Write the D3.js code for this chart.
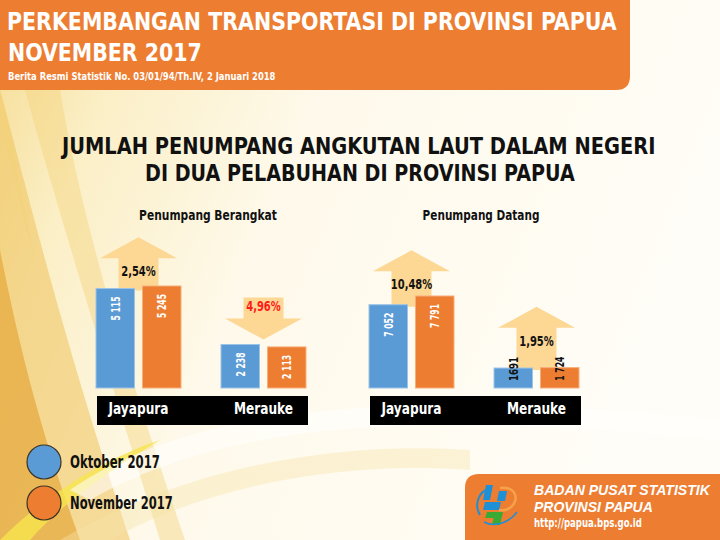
<!DOCTYPE html>
<html><head><meta charset="utf-8">
<script src="https://cdn.jsdelivr.net/npm/d3@7/dist/d3.min.js"></script>
<style>body{margin:0;background:#fff}svg{display:block}</style>
</head><body>
<svg id="c" width="720" height="540"></svg>
<script>
// ---------- DATA ----------
const ports = ["Jayapura", "Merauke"];
const periods = ["Oktober 2017", "November 2017"];
const berangkatOkt = [5115, 2238];
const berangkatNov = [5245, 2113];
const berangkatOktLabels = ["5 115", "2 238"];
const berangkatNovLabels = ["5 245", "2 113"];
const berangkatChange = ["2,54%", "4,96%"];
const datangOkt = [7052, 1691];
const datangNov = [7791, 1724];
const datangOktLabels = ["7 052", "1691"];
const datangNovLabels = ["7 791", "1 724"];
const datangChange = ["10,48%", "1,95%"];

// ---------- STYLE ----------
const COND = "'Liberation Sans Narrow','DejaVu Sans Condensed','Arial Narrow',sans-serif";
const ORANGE = "#ED7D31", BLUE = "#5B9BD5", ARROW = "#FDD794";
const colors = [BLUE, ORANGE];
const strokes = ["#9CC3E8", "#F6AE7A"];

const svg = d3.select("#c");
const defs = svg.append("defs");

// text helper: draws text and squeezes it horizontally to a target width
function fitText(parent, { x, y, w, anchor = "start", size, family = COND, weight = "bold", style = "normal", fill = "#111", text }) {
  const t = parent.append("text").attr("x", 0).attr("y", y).attr("text-anchor", anchor)
    .attr("font-family", family).attr("font-size", size).attr("font-weight", weight)
    .attr("font-style", style).attr("fill", fill).text(text);
  const L = t.node().getComputedTextLength();
  const k = L > 0 ? w / L : 1;
  t.attr("transform", `translate(${x},0) scale(${k},1)`);
  return t;
}

// ---------- BACKGROUND ----------
const bg = defs.append("linearGradient").attr("id", "bg").attr("x1", 0).attr("y1", 0).attr("x2", 1).attr("y2", 0.3);
[["0%", "#F6DC93"], ["18%", "#FBEFC6"], ["45%", "#FEF9EA"], ["100%", "#FFFDF7"]]
  .forEach(([o, c]) => bg.append("stop").attr("offset", o).attr("stop-color", c));
svg.append("rect").attr("width", 720).attr("height", 540).attr("fill", "url(#bg)");

const sw = svg.append("g");
sw.append("path").attr("d", "M0,90 C30,200 60,330 130,540 L0,540 Z").attr("fill", "#EFC35C").attr("opacity", 0.55);
sw.append("path").attr("d", "M0,250 C20,350 40,430 80,540 L0,540 Z").attr("fill", "#E6A83C").attr("opacity", 0.7);
sw.append("path").attr("d", "M0,90 C10,130 20,190 35,260 C18,200 8,150 0,120 Z").attr("fill", "#F3D27A").attr("opacity", 0.6);
sw.append("path").attr("d", "M25,90 C55,200 95,330 160,540 L185,540 C120,350 80,210 60,90 Z").attr("fill", "#F4D37C").attr("opacity", 0.45);
sw.append("path").attr("d", "M0,540 C40,500 100,460 160,440 C110,470 60,505 30,540 Z").attr("fill", "#F8E54E").attr("opacity", 0.8);
sw.append("path").attr("d", "M70,490 C200,400 420,390 720,420 L720,440 C430,410 230,420 90,500 Z").attr("fill", "#FFFFFF").attr("opacity", 0.55);
sw.append("path").attr("d", "M60,540 C180,470 330,440 470,450 L470,470 C330,460 200,490 110,540 Z").attr("fill", "#F7E3A8").attr("opacity", 0.4);

// ---------- HEADER ----------
svg.append("path").attr("d", "M0,0 H630 V76 Q630,90 616,90 H0 Z").attr("fill", ORANGE);
fitText(svg, { x: 7, y: 30, w: 610, size: 25, fill: "#fff", text: "PERKEMBANGAN TRANSPORTASI DI PROVINSI PAPUA" });
fitText(svg, { x: 8, y: 61, w: 194, size: 25, fill: "#fff", text: "NOVEMBER 2017" });
fitText(svg, { x: 8, y: 80, w: 268, size: 11, fill: "#fff", text: "Berita Resmi Statistik No. 03/01/94/Th.IV, 2 Januari 2018" });

// ---------- MAIN TITLE ----------
fitText(svg, { x: 62, y: 154, w: 594, size: 23, text: "JUMLAH PENUMPANG ANGKUTAN LAUT DALAM NEGERI" });
fitText(svg, { x: 145, y: 181, w: 430, size: 23, text: "DI DUA PELABUHAN DI PROVINSI PAPUA" });

// ---------- PANELS ----------
const panels = [
  { title: "Penumpang Berangkat", titleW: 138, okt: berangkatOkt, nov: berangkatNov,
    oktL: berangkatOktLabels, novL: berangkatNovLabels, change: berangkatChange, x0: 96, topY: 286 },
  { title: "Penumpang Datang", titleW: 117, okt: datangOkt, nov: datangNov,
    oktL: datangOktLabels, novL: datangNovLabels, change: datangChange, x0: 369, topY: 296 }
];
const baseY = 388, panelW = 210;

panels.forEach(p => {
  const g = svg.append("g");
  const gx = d3.scaleBand().domain(ports).range([p.x0, p.x0 + panelW]).paddingInner(0.32);
  const sx = d3.scaleBand().domain(periods).range([0, gx.bandwidth()]).paddingInner(0.172);
  const y = d3.scaleLinear().domain([0, d3.max(p.okt.concat(p.nov))]).range([baseY, p.topY]);

  fitText(g, { x: p.x0 + panelW / 2 + 7, y: 220, w: p.titleW, anchor: "middle", size: 14, text: p.title });

  const rows = ports.map((port, i) => ({
    port, vals: [p.okt[i], p.nov[i]], labels: [p.oktL[i], p.novL[i]], change: p.change[i]
  }));

  // arrows (behind bars)
  rows.forEach(r => {
    const cx = gx(r.port) + gx.bandwidth() / 2;
    const tops = r.vals.map(v => y(v));
    const short = d3.min(r.vals.map(v => baseY - y(v))) < 30;
    const hw = 38.5, sw2 = 20, hh = 21;
    let d, ly;
    const up = r.vals[1] > r.vals[0];
    if (up) {
      const shaftBottom = d3.max(tops) + 2;
      const headBase = d3.mean(tops) - 29 - (short ? 11 : 0);
      const apex = headBase - hh;
      d = `M${cx - sw2},${shaftBottom} V${headBase} H${cx - hw} L${cx},${apex} L${cx + hw},${headBase} H${cx + sw2} V${shaftBottom} Z`;
      ly = headBase + 18;
    } else {
      const apex = d3.min(tops) - 5;
      const headBase = apex - hh;
      const shaftTop = headBase - 21;
      d = `M${cx - sw2},${shaftTop} V${headBase} H${cx - hw} L${cx},${apex} L${cx + hw},${headBase} H${cx + sw2} V${shaftTop} Z`;
      ly = headBase - 7;
    }
    g.append("path").attr("d", d).attr("fill", ARROW);
    fitText(g, { x: cx, y: ly, w: r.change.length * 6.9, anchor: "middle", size: 14.5,
      fill: up ? "#111" : "#FF1A1A", text: r.change });
  });

  // bars
  rows.forEach(r => {
    periods.forEach((per, j) => {
      const bx = gx(r.port) + sx(per);
      const top = y(r.vals[j]);
      g.append("rect").attr("x", bx).attr("y", top).attr("width", sx.bandwidth()).attr("height", baseY - top)
        .attr("fill", colors[j]).attr("stroke", strokes[j]).attr("stroke-width", 1);
      const cx = bx + sx.bandwidth() / 2;
      const short = baseY - top < 30;
      g.append("text")
        .attr("transform", `translate(${cx + 4.5},${short ? top - 11 : top + 8}) rotate(-90)`)
        .attr("text-anchor", "end").attr("font-family", COND)
        .attr("font-size", 12.5).attr("font-weight", "bold")
        .attr("fill", short ? "#111" : "#fff")
        .attr("textLength", 24).attr("lengthAdjust", "spacingAndGlyphs")
        .text(r.labels[j]);
    });
  });

  // category band
  g.append("rect").attr("x", p.x0 + 1).attr("y", 396).attr("width", panelW + 1).attr("height", 29).attr("fill", "#000");
  ports.forEach(port => {
    fitText(g, { x: gx(port) + gx.bandwidth() / 2, y: 414, w: port === "Jayapura" ? 60 : 59, anchor: "middle",
      size: 16.5, fill: "#fff", text: port });
  });
});

// ---------- LEGEND ----------
periods.forEach((per, i) => {
  const cy = 462 + i * 41;
  svg.append("circle").attr("cx", 44).attr("cy", cy).attr("r", 17)
    .attr("fill", colors[i]).attr("stroke", "#3b3324").attr("stroke-width", 1.2);
  fitText(svg, { x: 70, y: cy + 6, w: i === 0 ? 90 : 103, size: 17.5, text: per });
});

// ---------- FOOTER BOX ----------
svg.append("path").attr("d", "M465,540 V488 Q465,474 479,474 H720 V540 Z").attr("fill", ORANGE);
const logo = svg.append("g");
logo.append("path").attr("d", "M480,515 C474,505 478,492 490,488").attr("fill", "none").attr("stroke", "#1F8FD6").attr("stroke-width", 2);
logo.append("path").attr("d", "M486,485 L493,485 L490,500 L483,500 Z").attr("fill", "#1F8FD6");
logo.append("path").attr("d", "M485,502 L501,502 L499,510 L483,510 Z").attr("fill", "#1F8FD6");
logo.append("path").attr("d", "M499,491 L507,491 L505,501 L497,501 Z").attr("fill", "#1F8FD6");
logo.append("path").attr("d", "M487,512 L499,512 L497,518 L485,518 Z").attr("fill", "#3BAA35");
logo.append("path").attr("d", "M495,512 L503,512 L500,525 L492,525 Z").attr("fill", "#3BAA35");
logo.append("path").attr("d", "M500,488 C512,486 520,495 513,505 C509,510 503,511 499,510").attr("fill", "none").attr("stroke", "#F6A24A").attr("stroke-width", 2.5);
logo.append("path").attr("d", "M484,522 C495,528 510,522 517,512").attr("fill", "none").attr("stroke", "#1F8FD6").attr("stroke-width", 1.5);

const SANS = "'Liberation Sans', Arial, sans-serif";
fitText(svg, { x: 534, y: 495, w: 176, size: 14.5, family: SANS, style: "italic", fill: "#fff", text: "BADAN PUSAT STATISTIK" });
fitText(svg, { x: 534, y: 512, w: 119, size: 14.5, family: SANS, style: "italic", fill: "#fff", text: "PROVINSI PAPUA" });
fitText(svg, { x: 534, y: 527, w: 108, size: 11.5, fill: "#fff", text: "http://papua.bps.go.id" });
</script>
</body></html>
